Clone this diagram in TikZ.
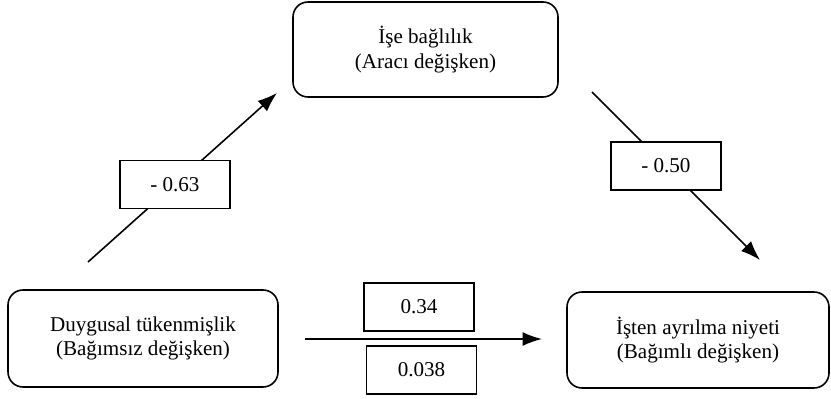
\documentclass[tikz,border=0pt]{standalone}
\usepackage{fontspec}
\setmainfont{Liberation Serif}
\usepackage{tikz}
\usetikzlibrary{arrows.meta,positioning,calc,shapes}

\tikzset{
    varbox/.style={draw,line width=0.9pt,rounded corners=0.3cm,align=center,font=\fontsize{12}{14}\selectfont},
    coefbox/.style={draw,line width=0.8pt,fill=white,minimum width=2.2cm,minimum height=0.96cm,font=\fontsize{12}{14}\selectfont},
    effect/.style={-{Latex[length=3.9mm,width=2.8mm]},line width=0.9pt}
}

\begin{document}
\begin{tikzpicture}
    \useasboundingbox (0,0) rectangle (16.62,7.96);
    \node [varbox,minimum width=5.3cm,minimum height=1.9cm] (med) at (8.51,6.97) {\.Işe bağlılık\\(Aracı değişken)};
    \node [varbox,minimum width=5.4cm,minimum height=1.94cm] (ind) at (2.86,1.19) {Duygusal tükenmişlik\\(Bağımsız değişken)};
    \node [varbox,minimum width=5.24cm,minimum height=1.92cm] (dep) at (13.96,1.16) {\.Işten ayrılma niyeti\\(Bağımlı değişken)};
    % free ends of the paths
    \coordinate (a1) at (1.76,2.72);
    \coordinate (a2) at (5.54,6.10);
    \coordinate (b1) at (11.84,6.12);
    \coordinate (b2) at (15.20,2.76);
    \coordinate (c1) at (6.10,1.18);
    \coordinate (c2) at (10.84,1.18);
    \draw [effect] (a1) to node [coefbox,pos=0.46] (pa) {- 0.63} (a2);
    \draw [effect] (b1) to node [coefbox,pos=0.44] (pb) {- 0.50} (b2);
    \draw [effect] (c1) to (c2);
    \node [coefbox] (pc) at (8.38,1.82) {0.34};
    \node [coefbox] (pd) at (8.43,0.56) {0.038};
\end{tikzpicture}
\end{document}
